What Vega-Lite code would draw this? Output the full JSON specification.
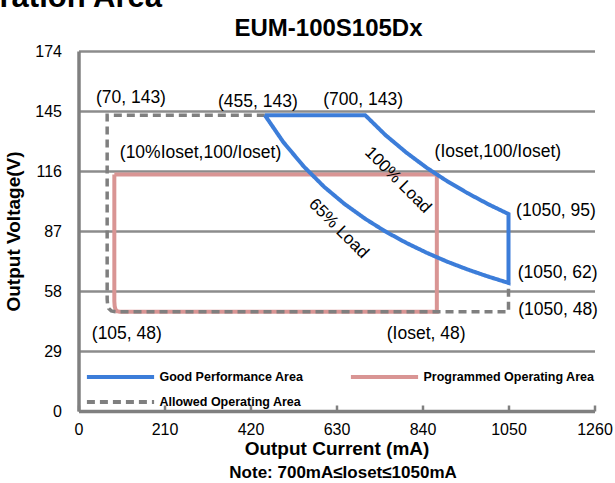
{
  "$schema": "https://vega.github.io/schema/vega-lite/v6.json",
  "width": 516,
  "height": 360,
  "autosize": {"type": "none"},
  "padding": {"left": 78.5, "top": 51, "right": 20.5, "bottom": 72},
  "background": "white",
  "title": {"text": "EUM-100S105Dx", "fontSize": 24, "fontWeight": "bold", "color": "black", "font": "Liberation Sans", "anchor": "middle", "baseline": "alphabetic", "offset": 0, "dx": -8, "dy": 78},
  "datasets": {
    "lines": [
      {"area": "Programmed Operating Area", "o": 0, "x": 87.5, "y": 114.3},
      {"area": "Programmed Operating Area", "o": 1, "x": 875, "y": 114.3},
      {"area": "Programmed Operating Area", "o": 2, "x": 875, "y": 48},
      {"area": "Programmed Operating Area", "o": 3, "x": 100, "y": 48},
      {"area": "Programmed Operating Area", "o": 4, "x": 94, "y": 48.2},
      {"area": "Programmed Operating Area", "o": 5, "x": 90.5, "y": 49},
      {"area": "Programmed Operating Area", "o": 6, "x": 88.3, "y": 50.7},
      {"area": "Programmed Operating Area", "o": 7, "x": 87.5, "y": 53},
      {"area": "Programmed Operating Area", "o": 8, "x": 87.5, "y": 114.3},
      {"area": "Allowed Operating Area", "o": 0, "x": 455, "y": 143},
      {"area": "Allowed Operating Area", "o": 1, "x": 70, "y": 143},
      {"area": "Allowed Operating Area", "o": 2, "x": 70, "y": 54},
      {"area": "Allowed Operating Area", "o": 3, "x": 71, "y": 51.5},
      {"area": "Allowed Operating Area", "o": 4, "x": 74, "y": 49.5},
      {"area": "Allowed Operating Area", "o": 5, "x": 80, "y": 48.4},
      {"area": "Allowed Operating Area", "o": 6, "x": 90, "y": 48},
      {"area": "Allowed Operating Area", "o": 7, "x": 1050, "y": 48},
      {"area": "Allowed Operating Area", "o": 8, "x": 1050, "y": 62},
      {"area": "Good Performance Area", "o": 0, "x": 455, "y": 143},
      {"area": "Good Performance Area", "o": 1, "x": 700, "y": 143},
      {"area": "Good Performance Area", "o": 2, "x": 750, "y": 133.3},
      {"area": "Good Performance Area", "o": 3, "x": 800, "y": 125},
      {"area": "Good Performance Area", "o": 4, "x": 850, "y": 117.6},
      {"area": "Good Performance Area", "o": 5, "x": 900, "y": 111.1},
      {"area": "Good Performance Area", "o": 6, "x": 950, "y": 105.3},
      {"area": "Good Performance Area", "o": 7, "x": 1000, "y": 100},
      {"area": "Good Performance Area", "o": 8, "x": 1050, "y": 95.2},
      {"area": "Good Performance Area", "o": 9, "x": 1050, "y": 61.9},
      {"area": "Good Performance Area", "o": 10, "x": 1000, "y": 65},
      {"area": "Good Performance Area", "o": 11, "x": 950, "y": 68.4},
      {"area": "Good Performance Area", "o": 12, "x": 900, "y": 72.2},
      {"area": "Good Performance Area", "o": 13, "x": 850, "y": 76.5},
      {"area": "Good Performance Area", "o": 14, "x": 800, "y": 81.3},
      {"area": "Good Performance Area", "o": 15, "x": 750, "y": 86.7},
      {"area": "Good Performance Area", "o": 16, "x": 700, "y": 92.9},
      {"area": "Good Performance Area", "o": 17, "x": 650, "y": 100},
      {"area": "Good Performance Area", "o": 18, "x": 600, "y": 108.3},
      {"area": "Good Performance Area", "o": 19, "x": 550, "y": 118.2},
      {"area": "Good Performance Area", "o": 20, "x": 500, "y": 130},
      {"area": "Good Performance Area", "o": 21, "x": 455, "y": 143}
    ],
    "labels": [
      {"label": "(70, 143)", "x": 128, "y": 151.1},
      {"label": "(455, 143)", "x": 438, "y": 149.5},
      {"label": "(700, 143)", "x": 695, "y": 150.3},
      {"label": "(10%Ioset,100/Ioset)", "x": 298, "y": 124.5},
      {"label": "(Ioset,100/Ioset)", "x": 1024, "y": 125.3},
      {"label": "(1050, 95)", "x": 1166, "y": 96.8},
      {"label": "(1050, 62)", "x": 1170, "y": 66.9},
      {"label": "(1050, 48)", "x": 1171, "y": 48.8},
      {"label": "(Ioset, 48)", "x": 849, "y": 37.2},
      {"label": "(105, 48)", "x": 118, "y": 37.2}
    ],
    "loads": [
      {"label": "100% Load", "x": 780, "y": 111.6},
      {"label": "65% Load", "x": 635, "y": 88.2}
    ],
    "note": [
      {"label": "Note:  700mA≤Ioset≤1050mA", "x": 646, "y": -32.5}
    ],
    "heading": [
      {"label": "Operation Area", "x": 204, "y": 195.3}
    ]
  },
  "encoding": {
    "x": {"field": "x", "type": "quantitative", "scale": {"domain": [0, 1260], "nice": false, "zero": false},
      "axis": {"values": [0, 210, 420, 630, 840, 1050, 1260], "format": "d", "title": "Output Current (mA)", "titleFontSize": 19, "titleFontWeight": "bold", "titleColor": "black", "titlePadding": 2,
        "labelFontSize": 16, "labelColor": "black", "labelPadding": 16, "grid": false, "domainColor": "#808080", "domainWidth": 3.5, "tickColor": "#808080", "tickWidth": 2.5, "tickSize": -6, "labelFlush": false}},
    "y": {"field": "y", "type": "quantitative", "scale": {"domain": [0, 174], "nice": false, "zero": false},
      "axis": {"values": [0, 29, 58, 87, 116, 145, 174], "format": "d", "title": "Output Voltage(V)", "titleFontSize": 19, "titleFontWeight": "bold", "titleColor": "black", "titlePadding": 11,
        "labelFontSize": 16, "labelColor": "black", "labelPadding": 17, "ticks": false, "grid": true, "gridColor": "#8c8c8c", "gridWidth": 2.5, "domainColor": "#808080", "domainWidth": 3.5, "labelFlush": false}}
  },
  "layer": [
    {
      "data": {"name": "lines"},
      "transform": [{"filter": "datum.area === 'Programmed Operating Area'"}],
      "mark": {"type": "line", "strokeWidth": 4},
      "encoding": {
        "order": {"field": "o", "type": "quantitative"},
        "color": {"field": "area", "type": "nominal", "scale": {"domain": ["Good Performance Area", "Programmed Operating Area", "Allowed Operating Area"], "range": ["#3C7DD9", "#D99594", "#7F7F7F"]}},
        "strokeDash": {"field": "area", "type": "nominal", "scale": {"domain": ["Good Performance Area", "Programmed Operating Area", "Allowed Operating Area"], "range": [[1, 0], [1, 0], [8, 5]]}}
      }
    },
    {
      "data": {"name": "lines"},
      "transform": [{"filter": "datum.area === 'Allowed Operating Area'"}],
      "mark": {"type": "line", "strokeWidth": 3.5},
      "encoding": {
        "order": {"field": "o", "type": "quantitative"},
        "color": {"field": "area", "type": "nominal"},
        "strokeDash": {"field": "area", "type": "nominal"}
      }
    },
    {
      "data": {"name": "lines"},
      "transform": [{"filter": "datum.area === 'Good Performance Area'"}],
      "mark": {"type": "line", "strokeWidth": 4},
      "encoding": {
        "order": {"field": "o", "type": "quantitative"},
        "color": {"field": "area", "type": "nominal"},
        "strokeDash": {"field": "area", "type": "nominal"}
      }
    },
    {
      "data": {"name": "labels"},
      "mark": {"type": "text", "fontSize": 17.5, "color": "black", "align": "center", "baseline": "middle"},
      "encoding": {"text": {"field": "label"}}
    },
    {
      "data": {"name": "loads"},
      "mark": {"type": "text", "fontSize": 17, "color": "black", "align": "center", "baseline": "middle", "angle": 45},
      "encoding": {"text": {"field": "label"}}
    },
    {
      "data": {"name": "note"},
      "mark": {"type": "text", "fontSize": 17, "fontWeight": "bold", "color": "black", "align": "center", "baseline": "alphabetic"},
      "encoding": {"text": {"field": "label"}}
    },
    {
      "data": {"name": "heading"},
      "mark": {"type": "text", "fontSize": 31, "fontWeight": "bold", "color": "black", "align": "right", "baseline": "alphabetic"},
      "encoding": {"text": {"field": "label"}}
    }
  ],
  "resolve": {"scale": {"color": "shared", "strokeDash": "shared"}},
  "config": {
    "view": {"stroke": null},
    "font": "Liberation Sans",
    "legend": {
      "orient": "none", "legendX": 28, "legendY": 312, "columns": 2, "direction": "horizontal", "title": null,
      "symbolType": "M-2.8,0H2.8", "symbolSize": 576, "symbolStrokeWidth": 4, "symbolFillColor": "transparent",
      "labelFont": "Liberation Sans", "labelFontSize": 12.5, "labelFontWeight": "bold", "labelColor": "black",
      "labelOffset": 25, "columnPadding": 39, "rowPadding": 3, "labelLimit": 400, "padding": 0
    }
  }
}
